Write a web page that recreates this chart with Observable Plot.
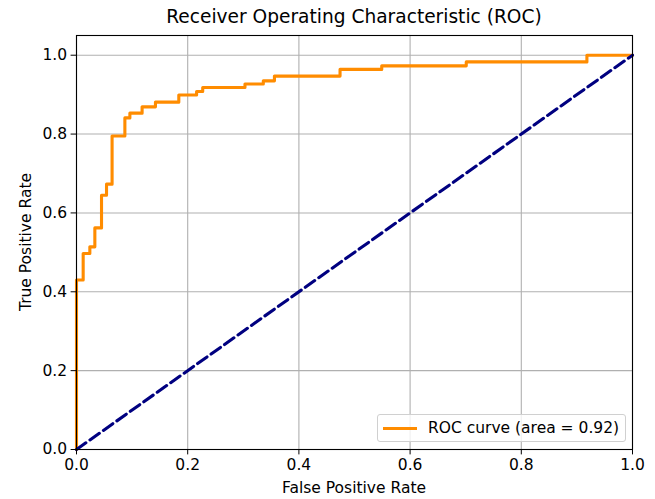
<!DOCTYPE html>
<html>
<head>
<meta charset="utf-8">
<script src="https://cdn.jsdelivr.net/npm/d3@7"></script>
<script src="https://cdn.jsdelivr.net/npm/@observablehq/plot@0.6"></script>
<style>
  html, body { margin: 0; padding: 0; background: #fff; }
  #wrap { position: relative; width: 655px; height: 499px; font-family: "DejaVu Sans", sans-serif; color: #000; }
  #title { position: absolute; left: 76px; width: 556px; top: 6px; text-align: center; font-size: 18.6px; line-height: 22px; white-space: nowrap; }
  #chart { position: absolute; left: 0; top: 30px; }
  #xlabel { position: absolute; left: 76px; width: 556px; top: 478px; text-align: center; font-size: 15.5px; line-height: 20px; white-space: nowrap; }
  #ylabel { position: absolute; left: 26px; top: 242px; transform: translate(-50%, -50%) rotate(-90deg); font-size: 15.5px; line-height: 20px; white-space: nowrap; }
  #legend { position: absolute; left: 377px; top: 414px; width: 247px; height: 26px; border: 1px solid #d0d0d0; border-radius: 3px; background: rgba(255,255,255,0.8); }
  #legend .sw { position: absolute; left: 5px; top: 11.5px; width: 34px; height: 0; border-top: 3.1px solid #ff8c00; }
  #legend .lb { position: absolute; left: 50px; top: 3px; font-size: 15.5px; line-height: 20px; white-space: nowrap; }
</style>
</head>
<body>
<div id="wrap">
  <div id="title">Receiver Operating Characteristic (ROC)</div>
  <div id="chart"></div>
  <div id="xlabel">False Positive Rate</div>
  <div id="ylabel">True Positive Rate</div>
  <div id="legend"><div class="sw"></div><div class="lb">ROC curve (area = 0.92)</div></div>
</div>
<script>
const fpr = [0, 0, 0.012, 0.024, 0.033, 0.045, 0.054, 0.064, 0.087, 0.096, 0.118, 0.142, 0.184, 0.216, 0.227, 0.303, 0.336, 0.356, 0.474, 0.549, 0.701, 0.918, 1.0];
const tpr = [0, 0.43, 0.497, 0.514, 0.562, 0.645, 0.673, 0.795, 0.841, 0.853, 0.869, 0.881, 0.899, 0.908, 0.918, 0.927, 0.935, 0.947, 0.964, 0.973, 0.983, 1.0, 1.0];
const diagX = [0, 1];
const diagY = [0, 1];
const ticks = [0, 0.2, 0.4, 0.6, 0.8, 1.0];

const roc = fpr.map((x, i) => ({x, y: tpr[i]}));
const diag = diagX.map((x, i) => ({x, y: diagY[i]}));

const chart = Plot.plot({
  width: 655,
  height: 469,
  marginLeft: 76,
  marginRight: 23,
  marginTop: 5,
  marginBottom: 50,
  style: { fontFamily: "DejaVu Sans, sans-serif", fontSize: "15.5px", color: "#000", background: "transparent" },
  x: { domain: [0, 1], ticks, tickFormat: d3.format(".1f") },
  y: { domain: [0, 1.05], ticks, tickFormat: d3.format(".1f") },
  marks: [
    Plot.gridX(ticks, { stroke: "#b0b0b0", strokeOpacity: 1, strokeWidth: 1.1 }),
    Plot.gridY(ticks, { stroke: "#b0b0b0", strokeOpacity: 1, strokeWidth: 1.1 }),
    Plot.line(roc, { x: "x", y: "y", curve: "step-after", stroke: "#ff8c00", strokeWidth: 3.1 }),
    Plot.line(diag, { x: "x", y: "y", stroke: "#000080", strokeWidth: 3.1, strokeDasharray: "11.5,5" }),
    Plot.frame({ stroke: "#000", strokeWidth: 1.1 }),
    Plot.axisX(ticks, { tickSize: 5.4, tickPadding: 4, tickFormat: d3.format(".1f"), label: null, fontSize: 15.5 }),
    Plot.axisY(ticks, { tickSize: 5.4, tickPadding: 4, tickFormat: d3.format(".1f"), label: null, fontSize: 15.5 })
  ]
});
document.getElementById("chart").appendChild(chart);
</script>
</body>
</html>
